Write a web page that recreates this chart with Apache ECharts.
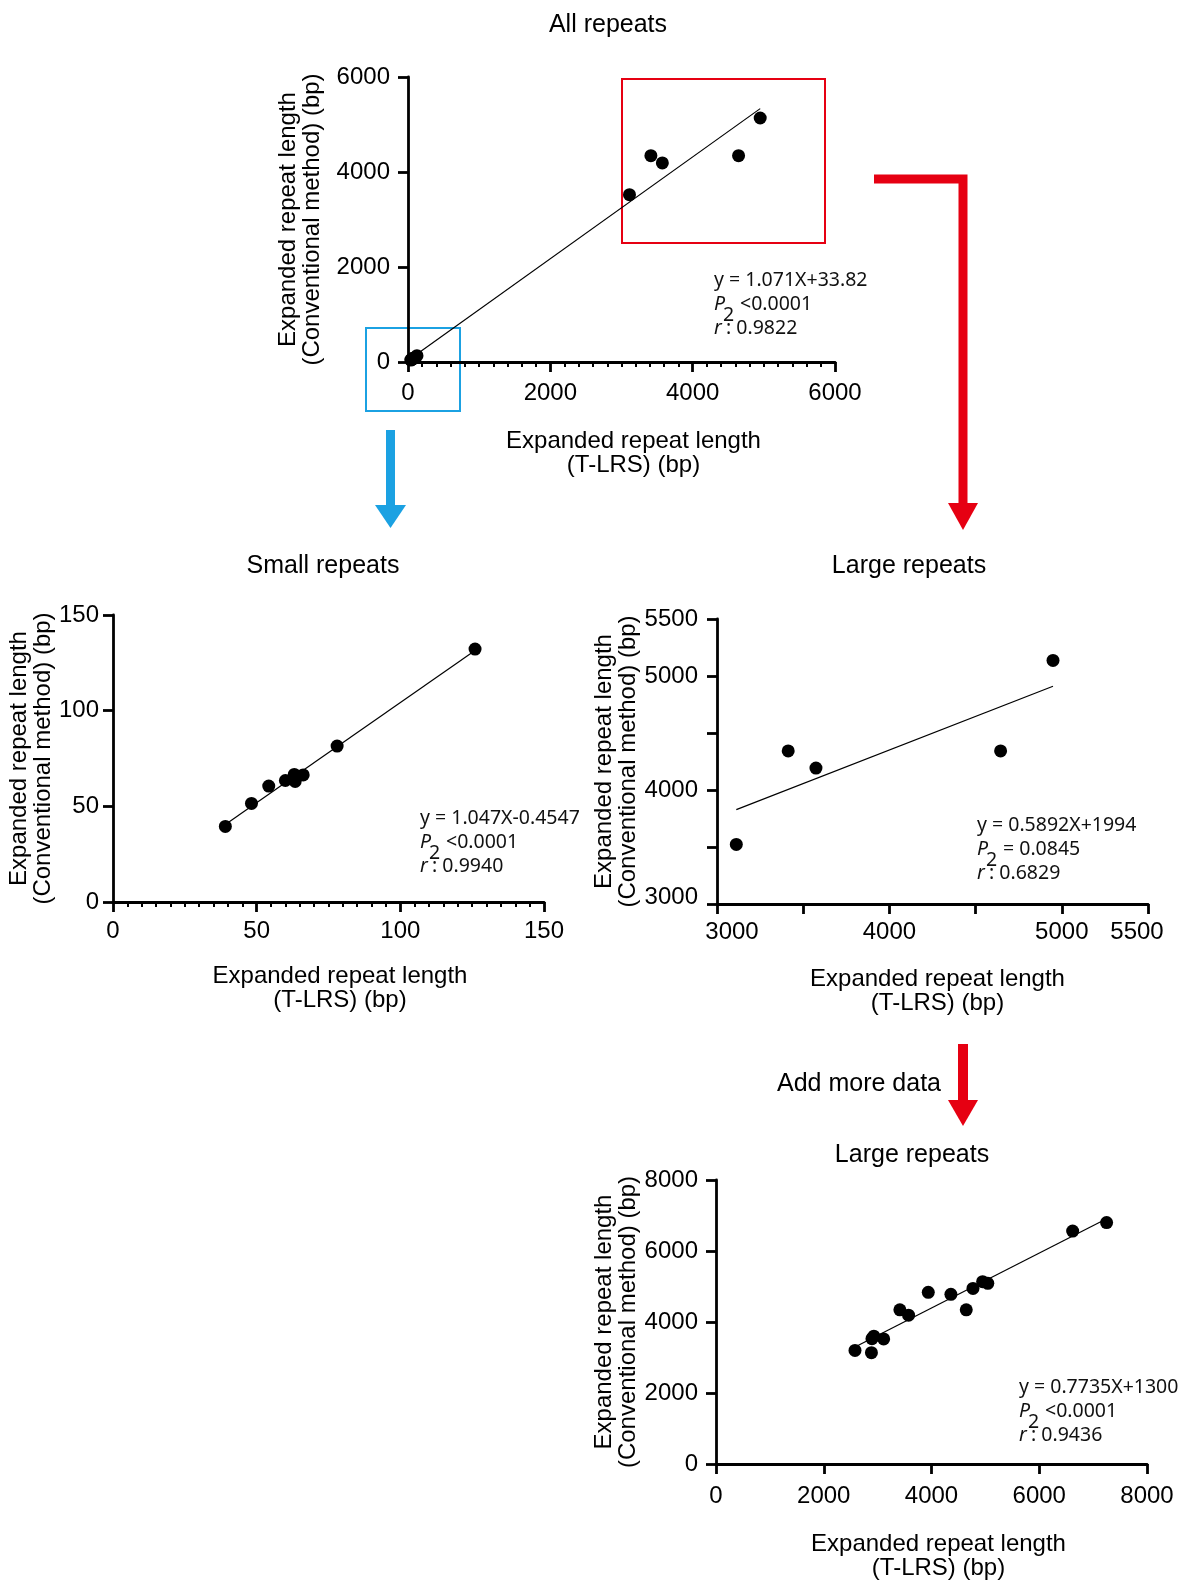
<!DOCTYPE html>
<html>
<head>
<meta charset="utf-8">
<script src="https://cdn.jsdelivr.net/npm/echarts@6/dist/echarts.min.js"></script>
<style>
  html, body { margin: 0; padding: 0; background: #fff; }
  #main { width: 1182px; height: 1582px; }
</style>
</head>
<body>
<div id="main"></div>
<script>
// small repeats (T-LRS vs conventional), bp
var smallX = [39.1, 48.2, 54.2, 60.0, 63.1, 63.4, 66.2, 78.0, 126.0]
var smallY = [39.5, 51.5, 60.6, 63.5, 66.7, 63.0, 66.4, 81.5, 132.2]

// large repeats, first batch
var largeX = [3112, 3413, 3574, 4645, 4949]
var largeY = [3523, 4343, 4192, 4343, 5137]

// extra large repeats added later
var moreX = [2580, 2885, 2895, 2930, 3940, 4360, 4770, 5045, 6620, 7250]
var moreY = [3200, 3135, 3530, 3600, 4835, 4780, 4945, 5090, 6560, 6800]

// fits as printed on the figure: [slope, intercept]
var fitAll = [1.071, 33.82]
var fitSmall = [1.047, -0.4547]
var fitLarge = [0.5892, 1994]
var fitMore = [0.7735, 1300]

var eqAll = ['y = 1.071X+33.82', '<0.0001', ': 0.9822']
var eqSmall = ['y = 1.047X-0.4547', '<0.0001', ': 0.9940']
var eqLarge = ['y = 0.5892X+1994', '= 0.0845', ': 0.6829']
var eqMore = ['y = 0.7735X+1300', '<0.0001', ': 0.9436']

var FONT = '"Liberation Sans", Arial, sans-serif'
var NOTE_FONT = '"Noto Sans", sans-serif'
var RED = '#e60012'
var BLUE = '#1ba1e2'

function pairs(xs, ys) {
  var out = []
  for (var i = 0; i < xs.length; i++) out.push([xs[i], ys[i]])
  return out
}

function fitLine(xs, fit) {
  var lo = Math.min.apply(null, xs)
  var hi = Math.max.apply(null, xs)
  return [[lo, fit[0] * lo + fit[1]], [hi, fit[0] * hi + fit[1]]]
}

function plain(v) { return String(v) }

function axis(grid, min, max, interval) {
  return {
    type: 'value',
    gridIndex: grid,
    min: min,
    max: max,
    interval: interval,
    splitLine: { show: false },
    axisLine: { show: true, onZero: false, lineStyle: { color: '#000', width: 2.8 } },
    axisTick: { show: true, length: 10, lineStyle: { color: '#000', width: 2.8 } },
    axisLabel: { color: '#000', fontSize: 24, fontFamily: FONT, formatter: plain },
    nameLocation: 'middle',
    nameTextStyle: { color: '#000', fontSize: 24, fontFamily: FONT, lineHeight: 24 }
  }
}

var X_NAME = 'Expanded repeat length\n(T-LRS) (bp)'
var Y_NAME = 'Expanded repeat length\n(Conventional method) (bp)'

// --- axes
var xTop = axis(0, 0, 6000, 2000)
xTop.minorTick = { show: true, splitNumber: 10, length: 5, lineStyle: { color: '#000', width: 2 } }
xTop.axisLabel.margin = 19
xTop.name = X_NAME
xTop.nameGap = 67
xTop.nameTextStyle.padding = [0, 0, 0, 24]
var yTop = axis(0, 0, 6000, 2000)
yTop.axisLabel.margin = 18
yTop.name = Y_NAME
yTop.nameGap = 84

var xSmall = axis(1, 0, 150, 50)
xSmall.minorTick = { show: true, splitNumber: 10, length: 5, lineStyle: { color: '#000', width: 2 } }
xSmall.axisLabel.margin = 17
xSmall.name = X_NAME
xSmall.nameGap = 62
xSmall.nameTextStyle.padding = [0, 0, 0, 23]
var ySmall = axis(1, 0, 150, 50)
ySmall.axisLabel.margin = 14
ySmall.name = Y_NAME
ySmall.nameGap = 55

function largeLabel(v) {
  if (v === 3500 || v === 4500) return ''
  if (v === 3000) return '{lo|3000}'
  if (v === 5500) return '{hi|5500}'
  return String(v)
}
var xLarge = axis(2, 3000, 5500, 500)
xLarge.axisLabel.margin = 16
xLarge.axisLabel.formatter = largeLabel
xLarge.axisLabel.rich = {
  lo: { fontSize: 24, fontFamily: FONT, color: '#000', padding: [0, 0, 0, 30] },
  hi: { fontSize: 24, fontFamily: FONT, color: '#000', padding: [0, 22, 0, 0] }
}
xLarge.name = X_NAME
xLarge.nameGap = 63
xLarge.nameTextStyle.padding = [0, 0, 0, 10]
var yLarge = axis(2, 3000, 5500, 500)
yLarge.axisLabel.margin = 19
yLarge.axisLabel.formatter = function (v) {
  if (v === 3500 || v === 4500) return ''
  if (v === 3000) return '{lo|3000}'
  return String(v)
}
yLarge.axisLabel.rich = {
  lo: { fontSize: 24, fontFamily: FONT, color: '#000', padding: [0, 0, 14, 0] }
}
yLarge.name = Y_NAME
yLarge.nameGap = 77

var xMore = axis(3, 0, 8000, 2000)
xMore.axisLabel.margin = 20
xMore.name = X_NAME
xMore.nameGap = 68
xMore.nameTextStyle.padding = [0, 0, 0, 14]
var yMore = axis(3, 0, 8000, 2000)
yMore.axisLabel.margin = 18
yMore.name = Y_NAME
yMore.nameGap = 76

// --- regression text blocks (P italic, r^2 with the odd raised 2)
function note(x, y, lines) {
  var base = { fill: '#111', fontSize: 19.5, fontFamily: NOTE_FONT, verticalAlign: 'middle' }
  function t(dx, dy, text, extra) {
    var style = Object.assign({}, base, { text: text }, extra || {})
    return { type: 'text', x: x + dx, y: y + dy, style: style, silent: true }
  }
  return [
    t(0, 0, lines[0]),
    t(0, 24, 'P', { fontStyle: 'italic' }),
    t(26, 24, lines[1]),
    t(9, 35, '2'),
    t(0, 48, 'r', { fontStyle: 'italic' }),
    t(12, 48, lines[2])
  ]
}

function scatter(grid, data) {
  return {
    type: 'scatter',
    xAxisIndex: grid,
    yAxisIndex: grid,
    data: data,
    symbolSize: 13,
    itemStyle: { color: '#000', opacity: 1 },
    z: 3
  }
}

function fit(grid, data) {
  return {
    type: 'line',
    xAxisIndex: grid,
    yAxisIndex: grid,
    data: data,
    symbol: 'none',
    silent: true,
    lineStyle: { color: '#000', width: 1.2 },
    z: 2
  }
}

var allX = smallX.concat(largeX)
var allY = smallY.concat(largeY)
var moreAllX = largeX.concat(moreX)
var moreAllY = largeY.concat(moreY)

var titleStyle = { color: '#000', fontSize: 25, fontWeight: 'normal', fontFamily: FONT }

var graphics = [
  // zoom boxes
  { type: 'rect', shape: { x: 622, y: 79, width: 203, height: 164 }, style: { fill: 'none', stroke: RED, lineWidth: 2 } },
  { type: 'rect', shape: { x: 366, y: 328, width: 94, height: 83 }, style: { fill: 'none', stroke: BLUE, lineWidth: 2 } },
  // red elbow arrow
  { type: 'polyline', shape: { points: [[874, 179], [963, 179], [963, 506]] }, style: { stroke: RED, lineWidth: 9, fill: 'none' } },
  { type: 'polygon', shape: { points: [[948, 503], [978, 503], [963, 530]] }, style: { fill: RED } },
  // blue arrow
  { type: 'rect', shape: { x: 386, y: 430, width: 9, height: 77 }, style: { fill: BLUE } },
  { type: 'polygon', shape: { points: [[375, 505], [406, 505], [390.5, 528]] }, style: { fill: BLUE } },
  // add more data arrow
  { type: 'rect', shape: { x: 958, y: 1044, width: 10, height: 58 }, style: { fill: RED } },
  { type: 'polygon', shape: { points: [[948, 1100], [978, 1100], [963, 1126]] }, style: { fill: RED } }
]
graphics = graphics
  .concat(note(714, 280, eqAll))
  .concat(note(420, 818, eqSmall))
  .concat(note(977, 825, eqLarge))
  .concat(note(1019, 1387, eqMore))

var chart = echarts.init(document.getElementById('main'))
var option = {
  backgroundColor: '#fff',
  animation: false,
  title: [
    { text: 'All repeats', left: 603, top: 8, textAlign: 'center', textStyle: titleStyle },
    { text: 'Small repeats', left: 318, top: 549, textAlign: 'center', textStyle: titleStyle },
    { text: 'Large repeats', left: 904, top: 549, textAlign: 'center', textStyle: titleStyle },
    { text: 'Add more data', left: 854, top: 1067, textAlign: 'center', textStyle: titleStyle },
    { text: 'Large repeats', left: 907, top: 1138, textAlign: 'center', textStyle: titleStyle }
  ],
  grid: [
    { left: 408, top: 77, width: 427, height: 285 },
    { left: 113, top: 615, width: 431, height: 287 },
    { left: 717, top: 619, width: 431, height: 285 },
    { left: 716, top: 1180, width: 431, height: 284 }
  ],
  xAxis: [xTop, xSmall, xLarge, xMore],
  yAxis: [yTop, ySmall, yLarge, yMore],
  series: [
    fit(0, fitLine(allX, fitAll)),
    scatter(0, pairs(allX, allY)),
    fit(1, fitLine(smallX, fitSmall)),
    scatter(1, pairs(smallX, smallY)),
    fit(2, fitLine(largeX, fitLarge)),
    scatter(2, pairs(largeX, largeY)),
    fit(3, fitLine(moreAllX, fitMore)),
    scatter(3, pairs(moreAllX, moreAllY))
  ],
  graphic: graphics
}
chart.setOption(option)
</script>
</body>
</html>
